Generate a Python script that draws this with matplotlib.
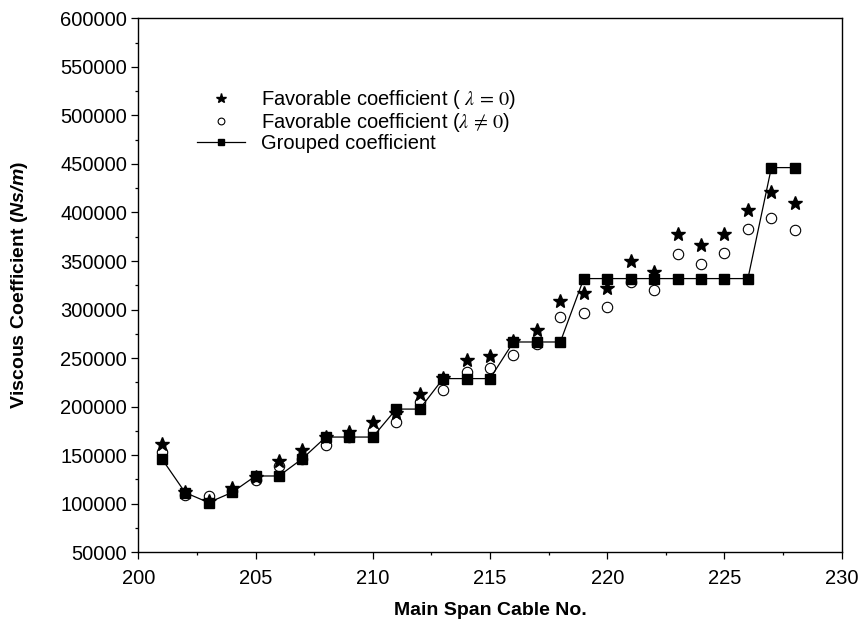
#!/usr/bin/env python3
# -*- coding: utf-8 -*-

import matplotlib
matplotlib.use("Agg")
import matplotlib.pyplot as plt
from matplotlib.font_manager import FontProperties
from matplotlib.ticker import MultipleLocator

# Main span cable numbers
cable_no = list(range(201, 229))

# Favorable coefficient (lambda = 0)
fav_lambda0 = [161200, 112000, 103000, 116600, 128000, 143700, 155800, 169000,
               173900, 184200, 193000, 213400, 229000, 247700, 251900, 268000,
               279400, 308500, 317100, 322200, 350000, 338700, 377500, 366200,
               377500, 402200, 421100, 409700]

# Favorable coefficient (lambda != 0)
fav_lambda_ne0 = [153300, 108700, 108000, 113000, 124100, 138600, 146000, 160900,
                  169000, 176400, 184200, 204800, 217600, 235700, 239800, 252900,
                  264200, 292300, 296900, 302600, 328400, 320500, 356900, 347300,
                  358600, 383300, 394700, 382300]

# Grouped coefficient
grouped = [146500, 111500, 101200, 111700, 128600, 128600, 146500, 168700,
           168700, 168700, 197500, 197500, 228900, 228900, 228900, 266600,
           266600, 266600, 331900, 331900, 331900, 331900, 331900, 331900,
           331900, 331900, 446200, 446200]

plt.rcParams["font.family"] = ["Liberation Sans", "DejaVu Sans"]
plt.rcParams["mathtext.fontset"] = "custom"
plt.rcParams["mathtext.rm"] = "Liberation Sans"
plt.rcParams["mathtext.bfit"] = "Liberation Sans:italic:bold"

fig = plt.figure(figsize=(8.61, 6.32), dpi=100)
ax = fig.add_axes([0.1606, 0.1261, 0.817, 0.845])

ax.plot(cable_no, fav_lambda_ne0, linestyle="none", marker="o", markersize=7.5,
        markerfacecolor="white", markeredgecolor="black", markeredgewidth=0.8,
        label=r"Favorable coefficient ($\lambda\,\neq\,0$)", zorder=2)
ax.plot(cable_no, grouped, color="black", linewidth=0.9, marker="s", markersize=7.5,
        label="Grouped coefficient", zorder=3)
ax.plot(cable_no, fav_lambda0, linestyle="none", marker="*", markersize=10.5,
        color="black", label=r"Favorable coefficient ( $\lambda\,=\,0$)", zorder=4)

ax.set_xlim(200, 230)
ax.set_ylim(50000, 600000)
ax.xaxis.set_major_locator(MultipleLocator(5))
ax.xaxis.set_minor_locator(MultipleLocator(2.5))
ax.yaxis.set_major_locator(MultipleLocator(50000))
ax.yaxis.set_minor_locator(MultipleLocator(25000))
ax.tick_params(axis="both", which="major", direction="out", length=5, width=0.9,
               labelsize=14.5, top=False, right=False)
ax.tick_params(axis="both", which="minor", direction="out", length=2.5, width=0.9,
               top=False, right=False)
ax.tick_params(axis="x", which="major", pad=7)
ax.tick_params(axis="y", which="major", pad=3)
for sp in ax.spines.values():
    sp.set_linewidth(1.0)

ax.set_xlabel("Main Span Cable No.", fontsize=14, fontweight="bold", labelpad=10)
ax.set_ylabel(r"Viscous Coefficient ($\mathbfit{Ns/m}$)", fontsize=14,
              fontweight="bold", labelpad=22)

handles, labels = ax.get_legend_handles_labels()
order = [2, 0, 1]
leg_font = FontProperties(family="Liberation Sans", size=14.5, math_fontfamily="stix")
ax.legend([handles[i] for i in order], [labels[i] for i in order],
          loc="upper left", bbox_to_anchor=(0.083, 0.87), frameon=False,
          prop=leg_font, markerscale=0.65, handlelength=2.4, handletextpad=0.8,
          labelspacing=0.0, borderpad=0, borderaxespad=0)

fig.savefig("out.png", dpi=100)
